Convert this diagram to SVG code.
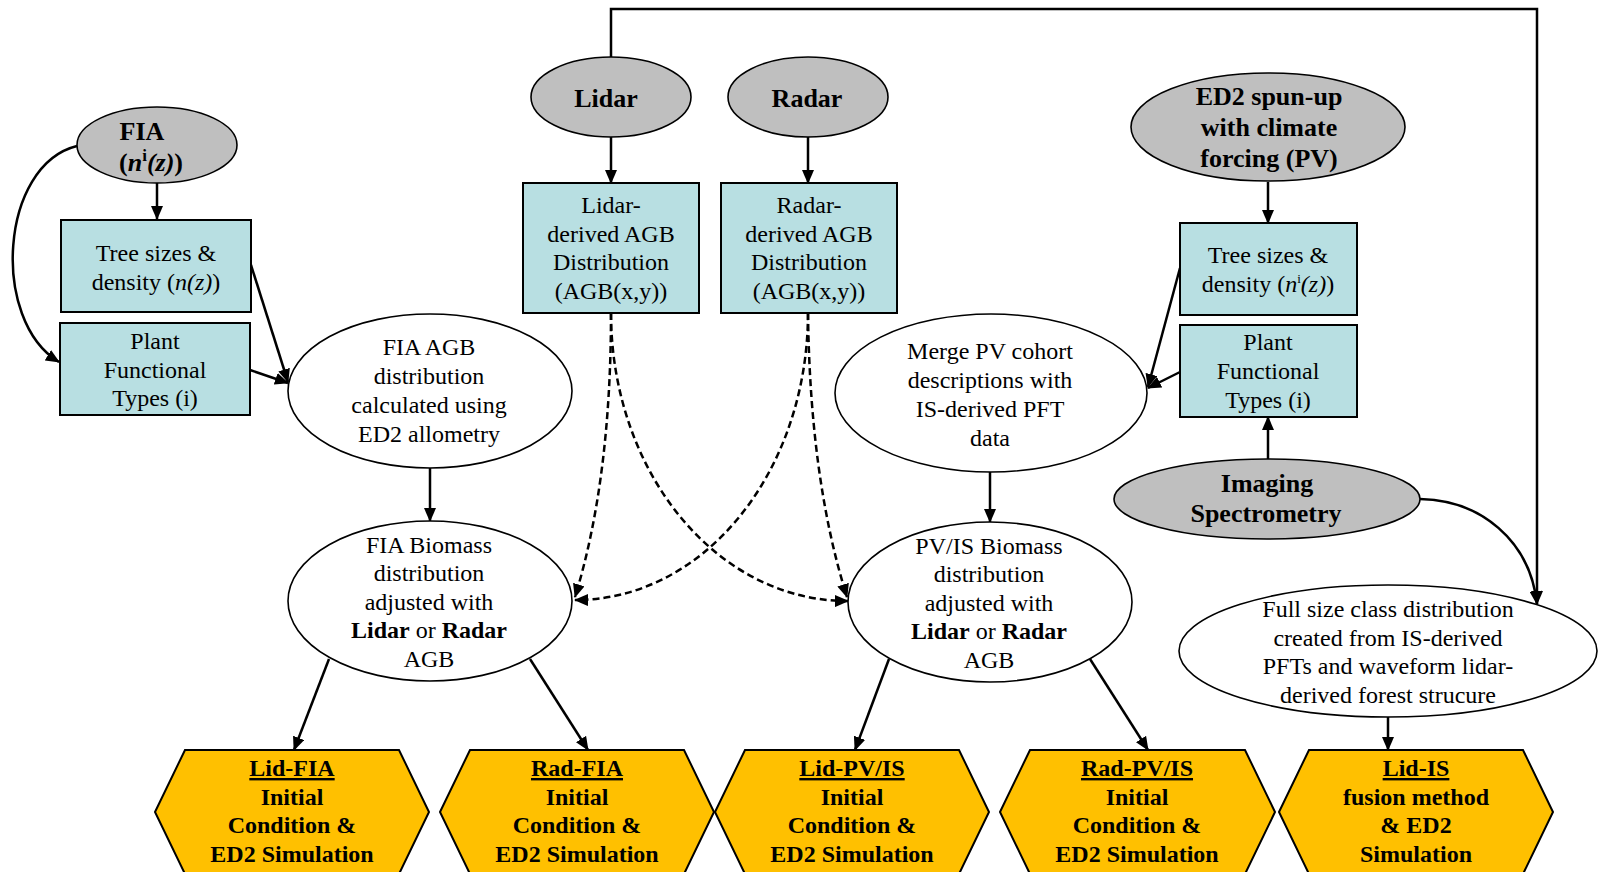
<svg xmlns="http://www.w3.org/2000/svg" width="1602" height="872" viewBox="0 0 1602 872">
<style>
.t{font-family:"Liberation Serif","Times New Roman",serif;font-size:24px;fill:#000;text-anchor:middle}
.b{font-weight:bold}
.g{font-size:26px}
.gray{fill:#bfbfbf;stroke:#000;stroke-width:1.6}
.box{fill:#b8dfe2;stroke:#000;stroke-width:2}
.ell{fill:#fff;stroke:#000;stroke-width:1.6}
.hex{fill:#ffc000;stroke:#000;stroke-width:2}
.c{fill:none;stroke:#000;stroke-width:2.5;marker-end:url(#ah)}
.d{stroke-dasharray:7 4}
</style>
<defs>
<marker id="ah" viewBox="0 0 14 12" refX="13" refY="6" markerWidth="14" markerHeight="12" markerUnits="userSpaceOnUse" orient="auto">
<path d="M0,0 L14,6 L0,12 z" fill="#000"/>
</marker>
</defs>
<rect width="1602" height="872" fill="#fff"/>

<g id="connectors">
<path class="c" d="M157,183 V219"/>
<path class="c" d="M77,146 C0,165 -10,320 59,362"/>
<path class="c" d="M251,265 L288,382"/>
<path class="c" d="M250,370 L288,383"/>
<path class="c" d="M430,468 V521"/>
<path class="c" d="M611,137 V183"/>
<path class="c" d="M808,137 V183"/>
<path class="c" d="M611,57 V9 H1537 V604"/>
<path class="c d" d="M611,313 Q611,480 575,597"/>
<path class="c d" d="M808,313 A232,287 0 0 1 575,600"/>
<path class="c d" d="M611,313 A236,288 0 0 0 848,601"/>
<path class="c d" d="M808,313 Q810,480 847,597"/>
<path class="c" d="M990,472 V522"/>
<path class="c" d="M1268,182 V223"/>
<path class="c" d="M1268,460 V417"/>
<path class="c" d="M1180,268 L1148,387"/>
<path class="c" d="M1180,372 L1148,388"/>
<path class="c" d="M1420,499 C1480,500 1530,540 1537,604"/>
<path class="c" d="M329,659 L294,750"/>
<path class="c" d="M530,659 L588,750"/>
<path class="c" d="M889,659 L855,750"/>
<path class="c" d="M1090,659 L1148,750"/>
<path class="c" d="M1388,717 V750"/>
</g>

<g id="fia">
<ellipse class="gray" cx="157" cy="145" rx="80" ry="38"/>
<text class="t b g" x="142" y="140">FIA</text>
<text class="t b g" x="151" y="171">(<tspan font-style="italic">n</tspan><tspan font-size="17" dy="-10">i</tspan><tspan font-style="italic" dy="10">(z)</tspan>)</text>
</g>

<g id="tree-left">
<rect class="box" x="61" y="220" width="190" height="92"/>
<text class="t" x="156" y="261">Tree sizes &amp;</text>
<text class="t" x="156" y="290">density (<tspan font-style="italic">n(z)</tspan>)</text>
</g>

<g id="pft-left">
<rect class="box" x="60" y="323" width="190" height="92"/>
<text class="t" x="155" y="349">Plant</text>
<text class="t" x="155" y="378">Functional</text>
<text class="t" x="155" y="406">Types (i)</text>
</g>

<g id="fia-agb">
<ellipse class="ell" cx="430" cy="391" rx="142" ry="77"/>
<text class="t" x="429" y="355">FIA AGB</text>
<text class="t" x="429" y="384">distribution</text>
<text class="t" x="429" y="413">calculated using</text>
<text class="t" x="429" y="442">ED2 allometry</text>
</g>

<g id="fia-biomass">
<ellipse class="ell" cx="430" cy="601" rx="142" ry="80"/>
<text class="t" x="429" y="553">FIA Biomass</text>
<text class="t" x="429" y="581">distribution</text>
<text class="t" x="429" y="610">adjusted with</text>
<text class="t" x="429" y="638"><tspan class="b">Lidar</tspan> or <tspan class="b">Radar</tspan></text>
<text class="t" x="429" y="667">AGB</text>
</g>

<g id="lidar">
<ellipse class="gray" cx="611" cy="97" rx="80" ry="40"/>
<text class="t b g" x="606" y="107">Lidar</text>
</g>

<g id="radar">
<ellipse class="gray" cx="808" cy="97" rx="80" ry="40"/>
<text class="t b g" x="807" y="107">Radar</text>
</g>

<g id="lidar-agb">
<rect class="box" x="523" y="183" width="176" height="130"/>
<text class="t" x="611" y="213">Lidar-</text>
<text class="t" x="611" y="241.5">derived AGB</text>
<text class="t" x="611" y="270">Distribution</text>
<text class="t" x="611" y="298.5">(AGB(x,y))</text>
</g>

<g id="radar-agb">
<rect class="box" x="721" y="183" width="176" height="130"/>
<text class="t" x="809" y="213">Radar-</text>
<text class="t" x="809" y="241.5">derived AGB</text>
<text class="t" x="809" y="270">Distribution</text>
<text class="t" x="809" y="298.5">(AGB(x,y))</text>
</g>

<g id="merge">
<ellipse class="ell" cx="991" cy="393" rx="156" ry="79"/>
<text class="t" x="990" y="359">Merge PV cohort</text>
<text class="t" x="990" y="388">descriptions with</text>
<text class="t" x="990" y="417">IS-derived PFT</text>
<text class="t" x="990" y="446">data</text>
</g>

<g id="pvis-biomass">
<ellipse class="ell" cx="990" cy="602" rx="142" ry="80"/>
<text class="t" x="989" y="554">PV/IS Biomass</text>
<text class="t" x="989" y="582">distribution</text>
<text class="t" x="989" y="611">adjusted with</text>
<text class="t" x="989" y="639"><tspan class="b">Lidar</tspan> or <tspan class="b">Radar</tspan></text>
<text class="t" x="989" y="668">AGB</text>
</g>

<g id="ed2">
<ellipse class="gray" cx="1268" cy="127" rx="137" ry="54"/>
<text class="t b g" x="1269" y="105">ED2 spun-up</text>
<text class="t b g" x="1269" y="136">with climate</text>
<text class="t b g" x="1269" y="167">forcing (PV)</text>
</g>

<g id="tree-right">
<rect class="box" x="1180" y="223" width="177" height="92"/>
<text class="t" x="1268" y="263">Tree sizes &amp;</text>
<text class="t" x="1268" y="292">density (<tspan font-style="italic">n</tspan><tspan font-size="13" dy="-9">i</tspan><tspan font-style="italic" dy="9">(z)</tspan>)</text>
</g>

<g id="pft-right">
<rect class="box" x="1180" y="325" width="177" height="92"/>
<text class="t" x="1268" y="350">Plant</text>
<text class="t" x="1268" y="379">Functional</text>
<text class="t" x="1268" y="408">Types (i)</text>
</g>

<g id="imaging">
<ellipse class="gray" cx="1267" cy="499" rx="153" ry="40"/>
<text class="t b g" x="1267" y="492">Imaging</text>
<text class="t b g" x="1266" y="522">Spectrometry</text>
</g>

<g id="full-size">
<ellipse class="ell" cx="1388" cy="651" rx="209" ry="66"/>
<text class="t" x="1388" y="617">Full size class distribution</text>
<text class="t" x="1388" y="645.5">created from IS-derived</text>
<text class="t" x="1388" y="674">PFTs and waveform lidar-</text>
<text class="t" x="1388" y="702.5">derived forest strucure</text>
</g>

<g id="lid-fia">
<polygon class="hex" points="155,812 185,750 399,750 429,812 399,874 185,874"/>
<text class="t b" x="292" y="776"><tspan text-decoration="underline">Lid-FIA</tspan></text>
<text class="t b" x="292" y="804.5">Initial</text>
<text class="t b" x="292" y="833">Condition &amp;</text>
<text class="t b" x="292" y="861.5">ED2 Simulation</text>
</g>

<g id="rad-fia">
<polygon class="hex" points="440,812 470,750 684,750 714,812 684,874 470,874"/>
<text class="t b" x="577" y="776"><tspan text-decoration="underline">Rad-FIA</tspan></text>
<text class="t b" x="577" y="804.5">Initial</text>
<text class="t b" x="577" y="833">Condition &amp;</text>
<text class="t b" x="577" y="861.5">ED2 Simulation</text>
</g>

<g id="lid-pvis">
<polygon class="hex" points="715,812 745,750 959,750 989,812 959,874 745,874"/>
<text class="t b" x="852" y="776"><tspan text-decoration="underline">Lid-PV/IS</tspan></text>
<text class="t b" x="852" y="804.5">Initial</text>
<text class="t b" x="852" y="833">Condition &amp;</text>
<text class="t b" x="852" y="861.5">ED2 Simulation</text>
</g>

<g id="rad-pvis">
<polygon class="hex" points="1000,812 1030,750 1245,750 1275,812 1245,874 1030,874"/>
<text class="t b" x="1137" y="776"><tspan text-decoration="underline">Rad-PV/IS</tspan></text>
<text class="t b" x="1137" y="804.5">Initial</text>
<text class="t b" x="1137" y="833">Condition &amp;</text>
<text class="t b" x="1137" y="861.5">ED2 Simulation</text>
</g>

<g id="lid-is">
<polygon class="hex" points="1279,812 1309,750 1523,750 1553,812 1523,874 1309,874"/>
<text class="t b" x="1416" y="776"><tspan text-decoration="underline">Lid-IS</tspan></text>
<text class="t b" x="1416" y="804.5">fusion method</text>
<text class="t b" x="1416" y="833">&amp; ED2</text>
<text class="t b" x="1416" y="861.5">Simulation</text>
</g>
</svg>
